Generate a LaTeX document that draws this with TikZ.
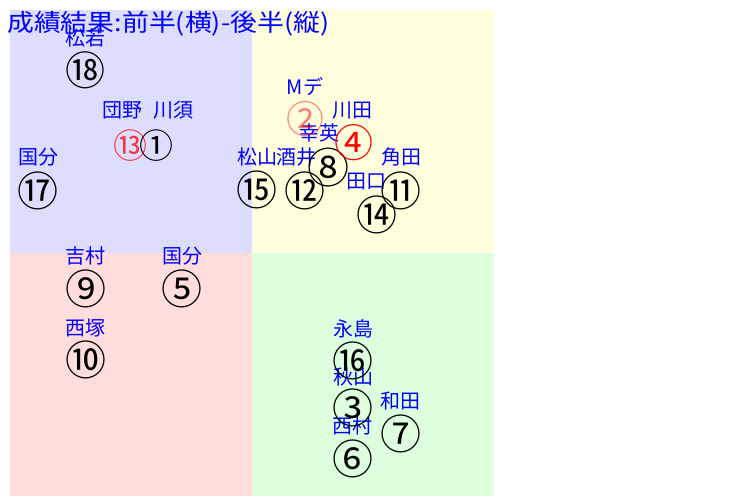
\documentclass[tikz,border=0pt]{standalone}
\usepackage{fontspec}
\newfontfamily\jp{Noto Sans CJK JP}
\definecolor{qblue}{HTML}{DDDDFF}
\definecolor{qyellow}{HTML}{FFFFDD}
\definecolor{qred}{HTML}{FFDDDD}
\definecolor{qgreen}{HTML}{DDFFDD}
\tikzset{
  lbl/.style={text=blue, font=\jp\fontsize{20}{20}\selectfont, inner sep=0pt},
  titletext/.style={text=blue, font=\jp\fontsize{24}{24}\selectfont, inner sep=0pt, anchor=west},
  num/.style={font=\jp\fontsize{#1}{#1}\selectfont, inner sep=0pt, text=black},
  num/.default=41,
}
\begin{document}
\begin{tikzpicture}[x=1pt,y=-1pt]
\useasboundingbox (0,0) rectangle (730,496);
% quadrants
\fill[qblue] (10,10) rectangle (252,253);
\fill[qyellow] (252,10) rectangle (494,253);
\fill[qred] (10,253) rectangle (252,496);
\fill[qgreen] (252,253) rectangle (494,496);
% title
\node[titletext] (title) at (7,24) {\scalebox{1.12}[1]{成績結果:前半(横)-後半(縦)}};
% labels
\node[lbl] (l18) at (85,38) {松若};
\node[lbl] (l13) at (122,110) {団野};
\node[lbl] (l1) at (173,110) {川須};
\node[lbl] (l17) at (38,157) {国分};
\node[lbl] (l15) at (257,157) {松山};
\node[lbl] (l12) at (296,157) {酒井};
\node[lbl] (l8) at (319,133) {幸英};
\node[lbl] (l2) at (305,87) {Mデ};
\node[lbl] (l4) at (352,110) {川田};
\node[lbl] (l11) at (401,157) {角田};
\node[lbl] (l14) at (366,181) {田口};
\node[lbl] (l9) at (85,256) {吉村};
\node[lbl] (l5) at (182,256) {国分};
\node[lbl] (l10) at (85,328) {西塚};
\node[lbl] (l16) at (353,329) {永島};
\node[lbl] (l3) at (353,377) {秋山};
\node[lbl] (l6) at (352,426) {西村};
\node[lbl] (l7) at (400,401) {和田};
% circled numbers
\node[num=40] (n18) at (85,70) {⑱};
\node[num=34, text=red, opacity=0.75] (n13) at (130,146) {⑬};
\node[num=34] (n1) at (156,146) {①};
\node[num] (n17) at (38,191) {⑰};
\node[num] (n15) at (257,190) {⑮};
\node[num] (n12) at (305,191) {⑫};
\node[num=42] (n8) at (328,168) {⑧};
\node[num=38, text=red, opacity=0.5] (n2) at (305,119) {②};
\node[num=39, text=red] (n4) at (354,143) {④};
\node[num] (n11) at (401,191) {⑪};
\node[num] (n14) at (377,215) {⑭};
\node[num] (n9) at (86,289) {⑨};
\node[num] (n5) at (182,289) {⑤};
\node[num] (n10) at (86,360) {⑩};
\node[num] (n16) at (353,361) {⑯};
\node[num] (n3) at (353,408) {③};
\node[num] (n6) at (353,459) {⑥};
\node[num] (n7) at (401,434) {⑦};
\end{tikzpicture}
\end{document}
